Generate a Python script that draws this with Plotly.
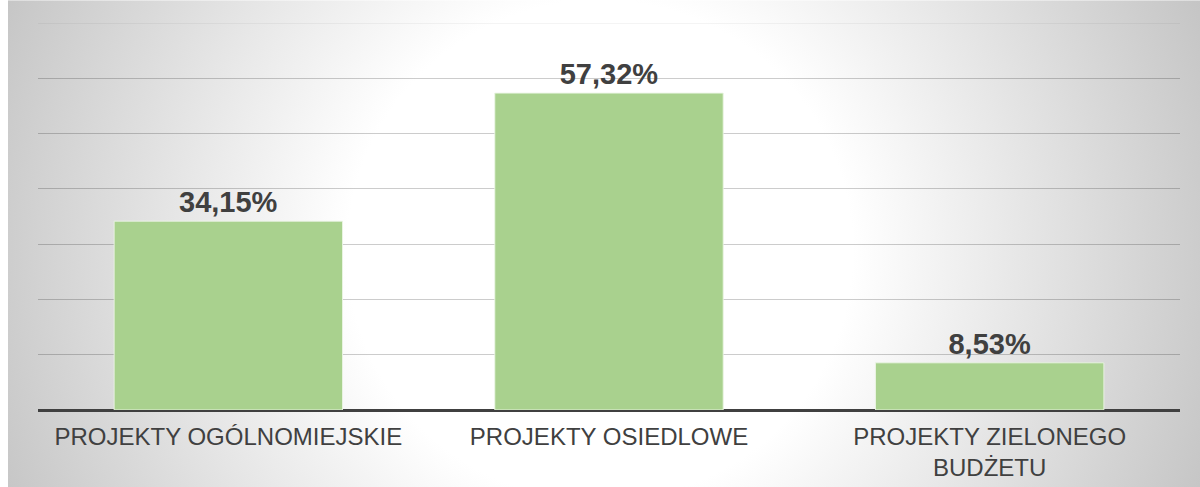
import base64
import plotly.graph_objects as go

categories = ["PROJEKTY OGÓLNOMIEJSKIE", "PROJEKTY OSIEDLOWE", "PROJEKTY ZIELONEGO<br>BUDŻETU"]
values = [34.15, 57.32, 8.53]
labels = ["34,15%", "57,32%", "8,53%"]
grid_vals = [10, 20, 30, 40, 50, 60]

W, H = 1192, 493
L, R, T, B = 30, 20, 23, 79
pw, ph = W - L - R, H - T - B

svg = (
    f"<svg xmlns='http://www.w3.org/2000/svg' width='{W}' height='{H}' viewBox='0 0 {W} {H}' preserveAspectRatio='none'>"
    "<defs><radialGradient id='g' gradientUnits='userSpaceOnUse' cx='592' cy='253' r='665'>"
    "<stop offset='0' stop-color='#ffffff'/>"
    "<stop offset='0.38' stop-color='#ffffff'/>"
    "<stop offset='1' stop-color='#c3c3c3'/>"
    "</radialGradient></defs>"
    f"<rect x='0' y='0' width='{W}' height='{H}' fill='url(#g)'/></svg>"
)
src = "data:image/svg+xml;base64," + base64.b64encode(svg.encode()).decode()

fig = go.Figure()
fig.add_trace(go.Bar(
    x=categories, y=values, text=labels, textposition="outside",
    textfont=dict(family="Liberation Sans, Arial", size=29, color="#404040", weight="bold"),
    marker=dict(color="#a9d18e", line=dict(color="rgba(235,245,228,0.9)", width=1)),
    width=0.6, cliponaxis=False, hoverinfo="skip",
))

fig.add_shape(type="line", xref="paper", x0=0, x1=1, yref="y", y0=70, y1=70,
              line=dict(color="rgba(0,0,0,0.09)", width=1), layer="below")

fig.update_layout(
    width=W, height=H,
    margin=dict(l=L, r=R, t=T, b=B, pad=0),
    paper_bgcolor="#ffffff",
    plot_bgcolor="rgba(0,0,0,0)",
    showlegend=False,
    images=[dict(
        source=src, xref="paper", yref="paper",
        x=-L / pw, y=1 + T / ph, sizex=W / pw, sizey=H / ph,
        xanchor="left", yanchor="top", sizing="stretch", layer="below",
    )],
    xaxis=dict(
        showgrid=False, showline=False, zeroline=False,
        ticks="outside", ticklen=5, tickcolor="rgba(0,0,0,0)",
        tickfont=dict(family="Liberation Sans, Arial", size=24, color="#404040"),
    ),
    yaxis=dict(
        range=[0, 70], showticklabels=False, ticks="",
        tickvals=grid_vals, showgrid=True, gridcolor="rgba(0,0,0,0.2)", gridwidth=1.3,
        zeroline=True, zerolinecolor="#404040", zerolinewidth=3, showline=False,
    ),
    bargap=0.4,
)

fig.write_html(
    "out.html",
    post_script=(
        "var d=document.documentElement,b=document.body;"
        "d.style.overflow='hidden';d.style.margin='0';"
        "b.style.margin='0 0 0 8px';b.style.overflow='hidden';"
    ),
)
